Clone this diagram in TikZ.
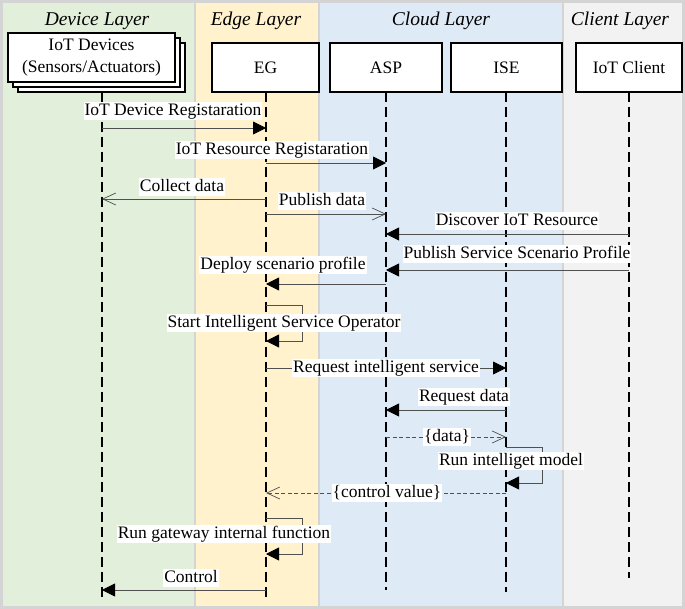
\documentclass[tikz,border=0pt]{standalone}
\usepackage{fontspec}
\setmainfont{Liberation Serif}
\usetikzlibrary{arrows.meta}
\definecolor{bordergray}{HTML}{D4D4D4}
\definecolor{devgreen}{HTML}{E2EFDA}
\definecolor{edgeyellow}{HTML}{FFF2CC}
\definecolor{cloudblue}{HTML}{DEEAF6}
\definecolor{clientgray}{HTML}{F2F2F2}
\definecolor{msggray}{HTML}{505050}
\tikzset{
  layerhead/.style={font=\fontsize{19.5}{22}\selectfont\itshape, inner sep=0pt},
  actor/.style={draw=black, fill=white, line width=1.1pt, minimum height=49pt, font=\fontsize{17.5}{22}\selectfont, align=center, inner sep=0pt},
  lifeline/.style={draw=black, line width=1.5pt, dash pattern=on 10pt off 5pt},
  msg/.style={draw=msggray, line width=0.8pt},
  filledtip/.style={-{Triangle[length=13pt,width=13pt,fill=black,color=black]}},
  opentip/.style={-{Straight Barb[length=13pt,width=12pt,line width=0.7pt]}},
  reply/.style={draw=msggray, line width=0.7pt, dash pattern=on 4pt off 2.5pt},
  lbl/.style={fill=white, inner sep=1pt, font=\fontsize{17.5}{20}\selectfont, text height=12pt, text depth=3.5pt}
}
\begin{document}
\begin{tikzpicture}[x=1pt,y=-1pt]
\fill[bordergray] (0,0) rectangle (685,609);
\fill[devgreen] (3,3) rectangle (194,606);
\fill[edgeyellow] (196,3) rectangle (318,606);
\fill[cloudblue] (320,3) rectangle (562,606);
\fill[clientgray] (564,3) rectangle (682,606);
\useasboundingbox (0,0) rectangle (685,609);

% layer headers
\node[layerhead] (hdev) at (97,21) {Device Layer};
\node[layerhead] (hedge) at (256,21) {Edge Layer};
\node[layerhead] (hcloud) at (441,21) {Cloud Layer};
\node[layerhead] (hclient) at (620,21) {Client Layer};

% actors
\node[actor, minimum width=167pt] (dev3) at (101.5,67.5) {};
\node[actor, minimum width=167pt] (dev2) at (96.5,62.5) {};
\node[actor, minimum width=167pt] (dev) at (91.5,57.5) {IoT Devices\\(Sensors/Actuators)};
\node[actor, minimum width=107pt] (eg) at (265.5,67.5) {EG};
\node[actor, minimum width=112pt] (asp) at (386,67.5) {ASP};
\node[actor, minimum width=111pt] (ise) at (506.5,67.5) {ISE};
\node[actor, minimum width=106pt] (client) at (629,67.5) {IoT Client};

% lifeline anchors
\coordinate (devtop) at (102,92);
\coordinate (devend) at (102,600);
\coordinate (egtop) at (266,92);
\coordinate (egend) at (266,600);
\coordinate (asptop) at (386,92);
\coordinate (aspend) at (386,590);
\coordinate (isetop) at (506,92);
\coordinate (iseend) at (506,592);
\coordinate (clienttop) at (629,92);
\coordinate (clientend) at (629,578);

\draw[lifeline] (devtop) -- (devend);
\draw[lifeline] (egtop) -- (egend);
\draw[lifeline] (asptop) -- (aspend);
\draw[lifeline] (isetop) -- (iseend);
\draw[lifeline] (clienttop) -- (clientend);

% 1
\node[lbl] (l1) at (173,111) {IoT Device Registaration};
\draw[msg, filledtip] (devtop |- 0,128) -- (egtop |- 0,128);
% 2
\node[lbl] (l2) at (272,150) {IoT Resource Registaration};
\draw[msg, filledtip] (egtop |- 0,163) -- (asptop |- 0,163);
% 3
\node[lbl] (l3) at (182,187) {Collect data};
\draw[msg, opentip] (egtop |- 0,199) -- (devtop |- 0,199);
% 4
\node[lbl] (l4) at (322,201) {Publish data};
\draw[msg, opentip] (egtop |- 0,214) -- (asptop |- 0,214);
% 5
\node[lbl] (l5) at (517,221) {Discover IoT Resource};
\draw[msg, filledtip] (clienttop |- 0,234) -- (asptop |- 0,234);
% 6
\node[lbl] (l6) at (517,254) {Publish Service Scenario Profile};
\draw[msg, filledtip] (clienttop |- 0,270) -- (asptop |- 0,270);
% 7
\node[lbl] (l7) at (283,265) {Deploy scenario profile};
\draw[msg, filledtip] (asptop |- 0,284) -- (egtop |- 0,284);
% 8 self
\draw[msg, filledtip] (egtop |- 0,305) -- ++(36,0) |- (egtop |- 0,341);
\node[lbl] (l8) at (284,323) {Start Intelligent Service Operator};
% 9
\draw[msg, filledtip] (egtop |- 0,368) -- (isetop |- 0,368);
\node[lbl] (l9) at (386,368) {Request intelligent service};
% 10
\node[lbl] (l10) at (464,397) {Request data};
\draw[msg, filledtip] (isetop |- 0,410) -- (asptop |- 0,410);
% 11
\draw[reply, opentip] (asptop |- 0,437) -- (isetop |- 0,437);
\node[lbl] (l11) at (447,437) {\{data\}};
% 12 self
\draw[msg, filledtip] (isetop |- 0,447) -- ++(36,0) |- (isetop |- 0,483);
\node[lbl] (l12) at (511,461) {Run intelliget model};
% 13
\draw[reply, opentip] (isetop |- 0,493) -- (egtop |- 0,493);
\node[lbl] (l13) at (387,493) {\{control value\}};
% 14 self
\draw[msg, filledtip] (egtop |- 0,518) -- ++(36,0) |- (egtop |- 0,554);
\node[lbl] (l14) at (224,534) {Run gateway internal function};
% 15
\node[lbl] (l15) at (191,578) {Control};
\draw[msg, filledtip] (egtop |- 0,590) -- (devtop |- 0,590);
\end{tikzpicture}
\end{document}
